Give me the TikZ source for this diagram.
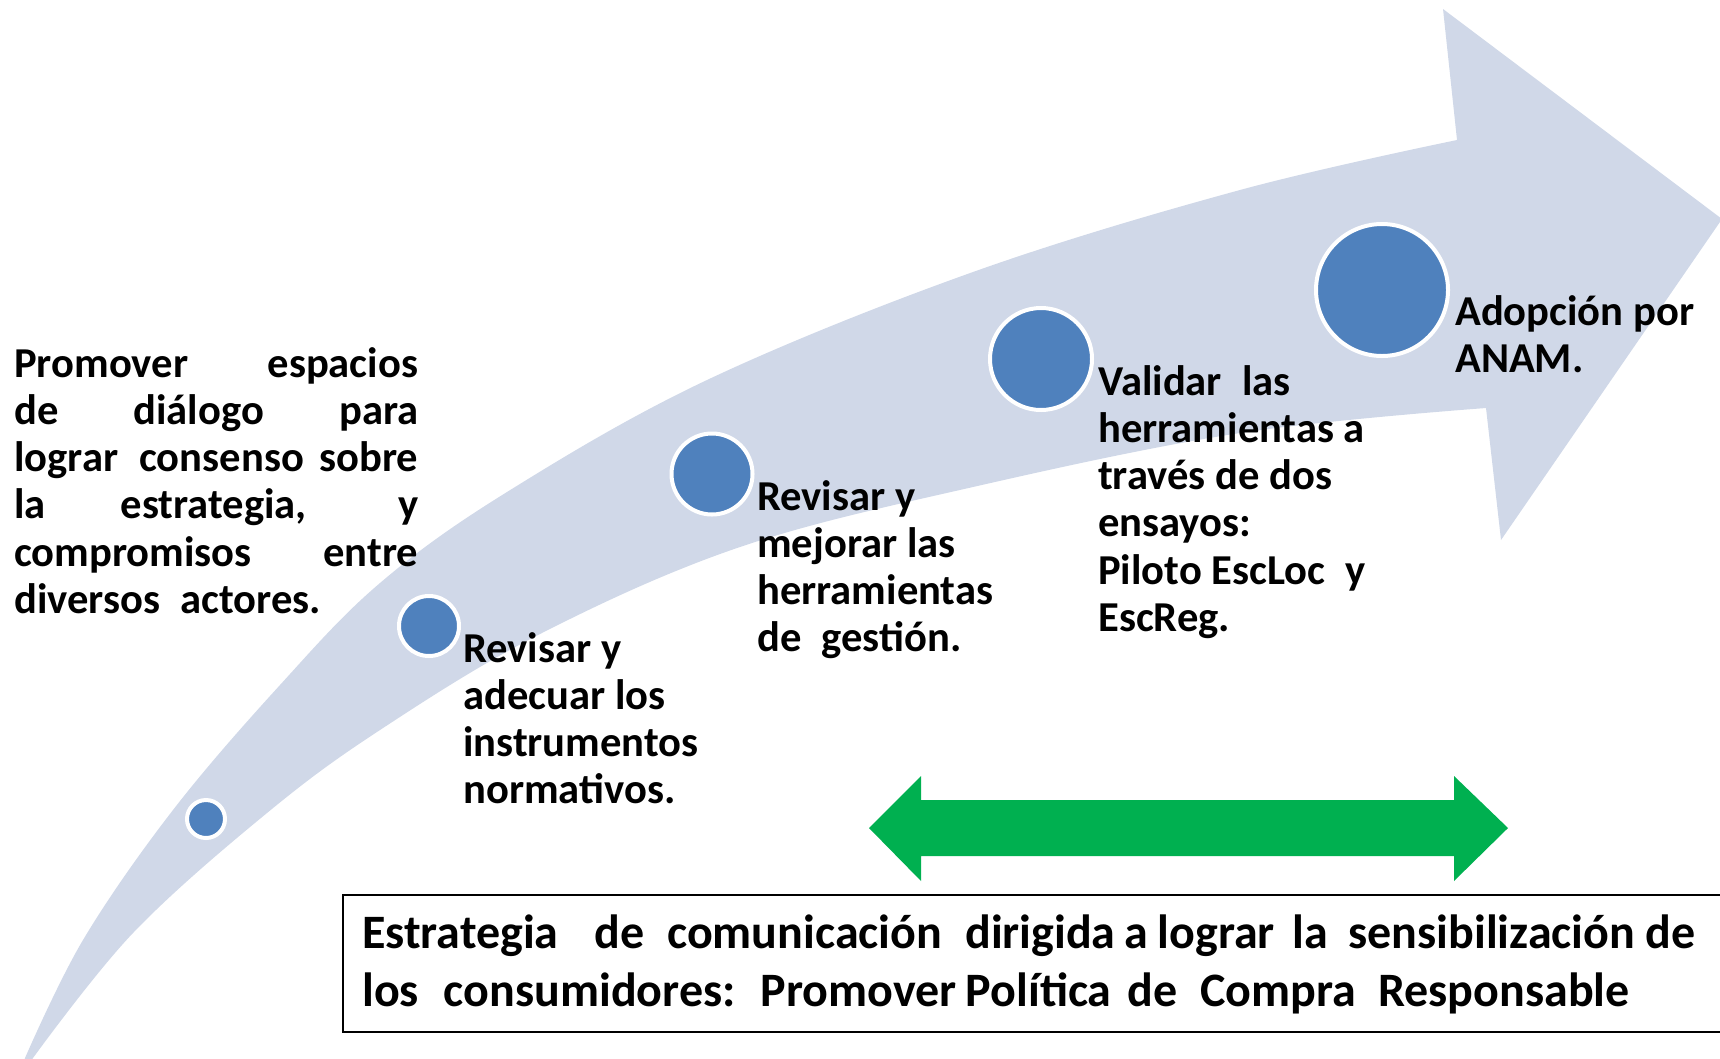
\documentclass[tikz,border=0pt]{standalone}
\usepackage{fontspec}
\setmainfont{Carlito}
\definecolor{band}{HTML}{D0D8E8}
\definecolor{dot}{HTML}{4F81BD}
\definecolor{grn}{HTML}{00B050}
\newcommand{\gp}[1]{\hspace{#1pt plus #1pt}}
\begin{document}
\begin{tikzpicture}[x=1pt,y=-1pt,
  dotc/.style={circle, fill=dot, draw=white, line width=4pt, inner sep=0pt},
  lbl/.style={anchor=north west, inner sep=0pt, align=left, text=black,
    font=\bfseries\fontsize{42.6}{47.2}\selectfont},
  boxtext/.style={anchor=north west, inner sep=0pt, align=left, text=black,
    font=\bfseries\fontsize{48}{58}\selectfont}]
\useasboundingbox (0,0) rectangle (1720,1058);
\clip (0,0) rectangle (1720,1058);
% curved band arrow
\fill[band] (17,1082) -- plot[smooth, tension=0.6] coordinates {(25,1058) (83,940) (173,810) (280,685) (380,583) (507,492) (707,380) (973,272) (1240,190) (1457,140)}
  -- (1443,9) -- (1722,219) -- (1501,540) -- (1486,408)
  -- plot[smooth, tension=0.6] coordinates {(1486,408) (1240,433) (973,487) (740,547) (540,634) (380,730) (267,813) (133,933) (33,1058)} -- cycle;
% dots
\node[dotc, minimum size=38pt] (c1) at (206,819) {};
\node[dotc, minimum size=60pt] (c2) at (429,626) {};
\node[dotc, minimum size=81pt] (c3) at (712,474) {};
\node[dotc, minimum size=102pt] (c4) at (1041,359) {};
\node[dotc, minimum size=132pt] (c5) at (1382,290) {};
% texts
\node[lbl] (t1) at (14,344) {\rule{0pt}{33pt}\makebox[404pt][s]{Promover espacios}\\
  \makebox[404pt][s]{de diálogo para}\\
  \hbox to 404pt{lograr\hspace{0pt plus 2fil} consenso\hspace{0pt plus 1fil} sobre}\\
  \makebox[404pt][s]{la estrategia, y}\\
  \makebox[404pt][s]{compromisos entre}\\
  diversos\hspace{0.25em} actores.};
\node[lbl] (t2) at (463,629) {\rule{0pt}{33pt}Revisar y\\adecuar los\\instrumentos\\normativos.};
\node[lbl] (t3) at (757,477) {\rule{0pt}{33pt}Revisar y\\mejorar las\\herramientas\\de\hspace{0.25em} gestión.};
\node[lbl] (t4) at (1098,362) {\rule{0pt}{33pt}Validar\hspace{0.25em} las\\herramientas a\\través de dos\\ensayos:\\Piloto EscLoc\hspace{0.25em} y\\EscReg.};
\node[lbl] (t5) at (1455,292) {\rule{0pt}{33pt}Adopción por\\ANAM.};
% green double arrow
\fill[grn] (869,828) -- (921,776) -- (921,800) -- (1454,800) -- (1454,776) -- (1508,828)
  -- (1454,881) -- (1454,856) -- (921,856) -- (921,881) -- cycle;
% bottom box
\node[draw=black, line width=2pt, anchor=north west, minimum width=1420pt, minimum height=137pt, inner sep=0pt] (box) at (342,894) {};
\node[boxtext] (bt) at (362,910) {\rule{0pt}{38pt}\hbox to 1333pt{Estrategia\gp{31}de\gp{20}comunicación\gp{20}dirigida\gp{8}a\gp{8}lograr\gp{15}la\gp{18}sensibilización\gp{9}de}\\
  \hbox to 1263pt{los\gp{25}consumidores:\gp{25}Promover\gp{9}Política\gp{16}de\gp{23}Compra\gp{22}Responsable}};
\end{tikzpicture}
\end{document}
